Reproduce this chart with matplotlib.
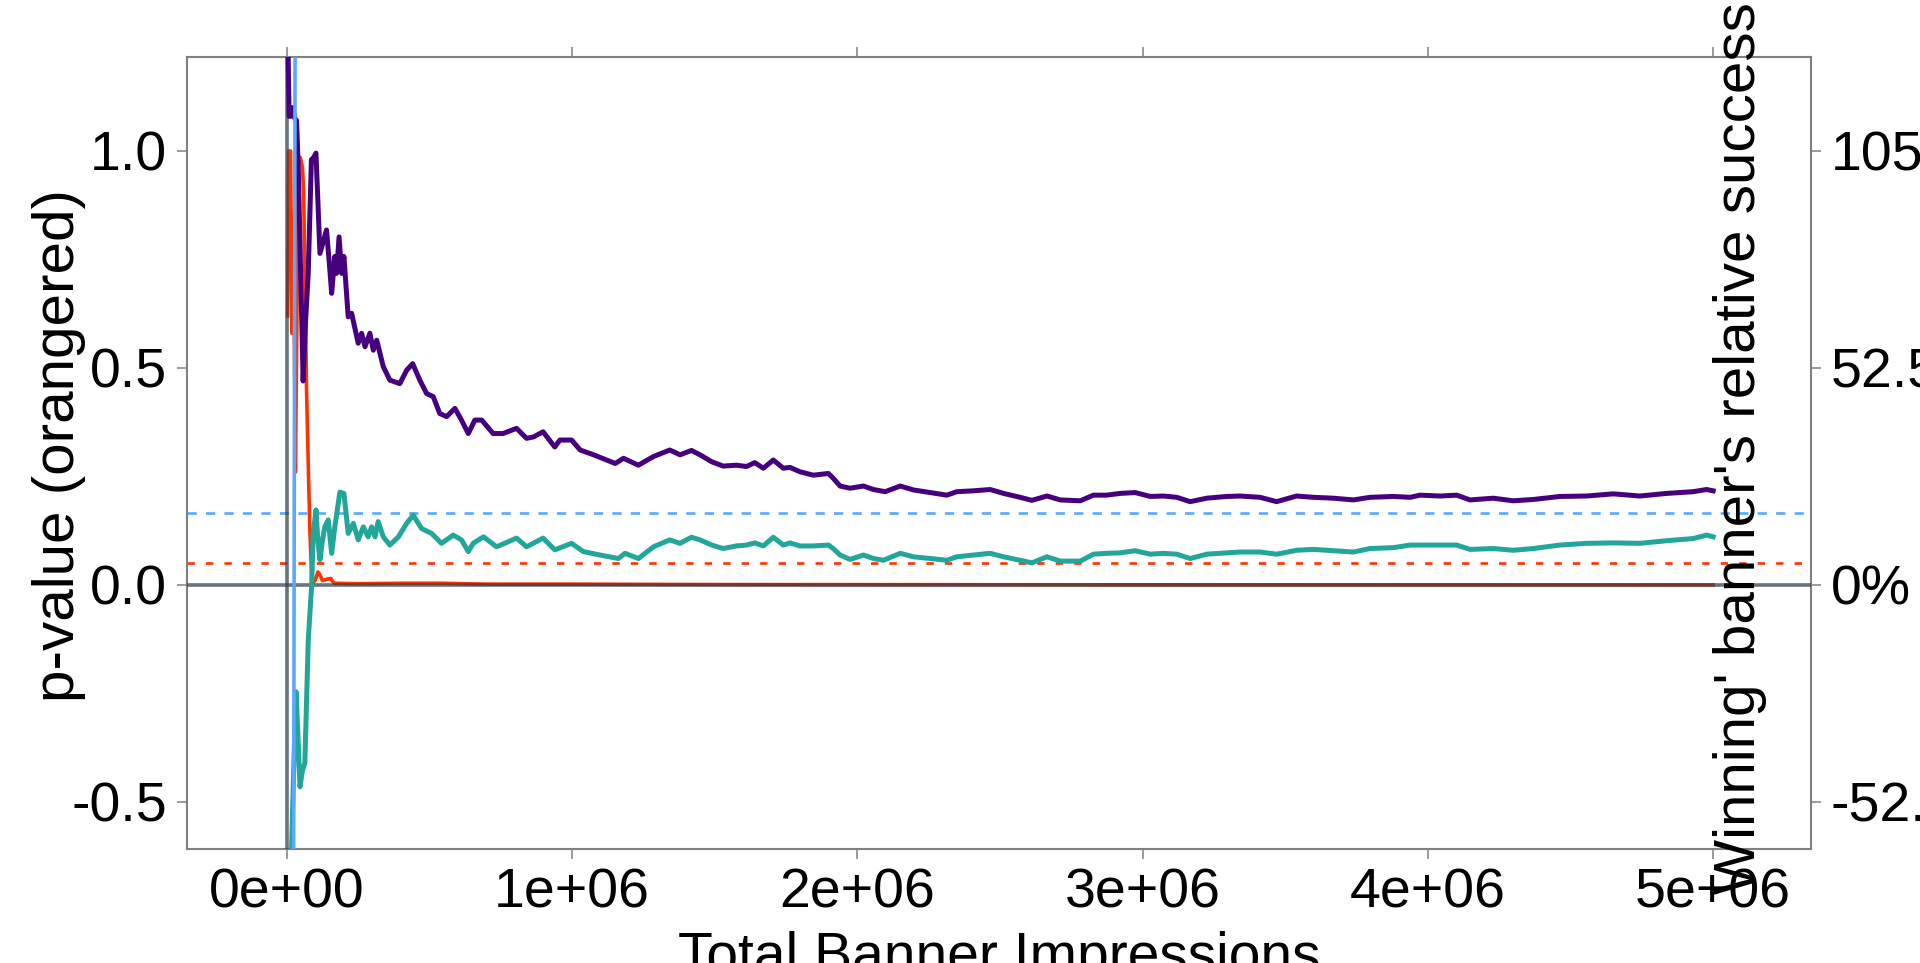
import numpy as np
import matplotlib
matplotlib.use("Agg")
import matplotlib.pyplot as plt
from matplotlib.ticker import FixedLocator, FixedFormatter

plt.rcParams['font.family'] = ['Liberation Sans', 'DejaVu Sans']

# ---- data -------------------------------------------------------------
# impressions in millions; upper relative-success bound (indigo)
upper_x = [0.002, 0.006, 0.009, 0.015, 0.022, 0.029, 0.035, 0.041, 0.050, 0.058,
           0.066, 0.076, 0.087, 0.095, 0.103, 0.110, 0.117, 0.128, 0.140, 0.150,
           0.158, 0.169, 0.175, 0.184, 0.193, 0.201, 0.216, 0.228, 0.251, 0.263,
           0.275, 0.292, 0.304, 0.316, 0.339, 0.362, 0.397, 0.421, 0.442, 0.467,
           0.491, 0.514, 0.537, 0.561, 0.590, 0.613, 0.637, 0.660, 0.684, 0.724,
           0.759, 0.806, 0.841, 0.865, 0.899, 0.940, 0.958, 0.999, 1.029, 1.076,
           1.122, 1.152, 1.181, 1.233, 1.286, 1.343, 1.379, 1.419, 1.449, 1.490,
           1.530, 1.577, 1.612, 1.641, 1.671, 1.706, 1.741, 1.764, 1.799, 1.846,
           1.899, 1.916, 1.940, 1.975, 2.022, 2.057, 2.098, 2.151, 2.197, 2.256,
           2.314, 2.349, 2.408, 2.466, 2.513, 2.571, 2.612, 2.665, 2.712, 2.782,
           2.828, 2.874, 2.921, 2.974, 3.027, 3.073, 3.120, 3.167, 3.225, 3.295,
           3.342, 3.412, 3.470, 3.540, 3.599, 3.669, 3.739, 3.797, 3.879, 3.938,
           3.973, 4.043, 4.101, 4.148, 4.229, 4.299, 4.369, 4.463, 4.556, 4.650,
           4.743, 4.837, 4.930, 4.977, 5.000]
upper_y = [1.60, 1.20, 1.08, 1.08, 1.10, 1.075, 1.07, 0.96, 0.70, 0.47,
           0.60, 0.72, 0.98, 0.985, 0.995, 0.88, 0.764, 0.79, 0.818, 0.74,
           0.672, 0.757, 0.718, 0.802, 0.718, 0.757, 0.618, 0.626, 0.557, 0.580,
           0.549, 0.580, 0.541, 0.564, 0.503, 0.472, 0.464, 0.495, 0.510, 0.472,
           0.441, 0.434, 0.395, 0.388, 0.407, 0.380, 0.349, 0.380, 0.380, 0.349,
           0.349, 0.361, 0.338, 0.341, 0.353, 0.318, 0.334, 0.334, 0.311, 0.300,
           0.288, 0.280, 0.292, 0.276, 0.296, 0.311, 0.300, 0.310, 0.300, 0.284,
           0.274, 0.276, 0.273, 0.282, 0.269, 0.288, 0.269, 0.271, 0.261, 0.253,
           0.257, 0.246, 0.228, 0.223, 0.228, 0.220, 0.215, 0.228, 0.219, 0.213,
           0.207, 0.215, 0.217, 0.220, 0.211, 0.202, 0.195, 0.205, 0.196, 0.194,
           0.207, 0.207, 0.211, 0.213, 0.204, 0.205, 0.202, 0.192, 0.200, 0.204,
           0.205, 0.202, 0.192, 0.205, 0.202, 0.200, 0.196, 0.202, 0.204, 0.202,
           0.207, 0.205, 0.207, 0.196, 0.200, 0.194, 0.197, 0.204, 0.205, 0.210,
           0.205, 0.211, 0.215, 0.220, 0.217]

# lower relative-success bound (sea green)
lower_x = [0.010, 0.0175, 0.026, 0.033, 0.040, 0.047, 0.055, 0.064, 0.076, 0.088,
           0.093, 0.099, 0.103, 0.110, 0.117, 0.125, 0.134, 0.146, 0.158, 0.169,
           0.187, 0.201, 0.216, 0.234, 0.251, 0.269, 0.286, 0.298, 0.310, 0.321,
           0.339, 0.362, 0.392, 0.421, 0.444, 0.473, 0.508, 0.543, 0.584, 0.613,
           0.637, 0.654, 0.690, 0.736, 0.806, 0.841, 0.899, 0.940, 0.999, 1.040,
           1.099, 1.163, 1.186, 1.233, 1.286, 1.343, 1.379, 1.419, 1.449, 1.490,
           1.530, 1.577, 1.612, 1.641, 1.671, 1.706, 1.741, 1.764, 1.799, 1.846,
           1.899, 1.916, 1.940, 1.975, 2.022, 2.057, 2.092, 2.151, 2.197, 2.256,
           2.314, 2.349, 2.408, 2.466, 2.513, 2.571, 2.612, 2.665, 2.712, 2.782,
           2.828, 2.874, 2.921, 2.974, 3.027, 3.073, 3.120, 3.167, 3.225, 3.295,
           3.342, 3.412, 3.470, 3.540, 3.599, 3.669, 3.739, 3.797, 3.879, 3.938,
           3.973, 4.043, 4.101, 4.148, 4.229, 4.299, 4.369, 4.463, 4.556, 4.650,
           4.743, 4.837, 4.930, 4.977, 5.000]
lower_y = [-0.95, -0.61, -0.40, -0.246, -0.35, -0.465, -0.43, -0.41, -0.127, 0.0,
           0.119, 0.15, 0.173, 0.10, 0.058, 0.10, 0.134, 0.15, 0.073, 0.134,
           0.214, 0.211, 0.119, 0.142, 0.104, 0.134, 0.111, 0.134, 0.111, 0.146,
           0.111, 0.092, 0.111, 0.142, 0.161, 0.130, 0.119, 0.096, 0.115, 0.104,
           0.077, 0.096, 0.111, 0.088, 0.108, 0.088, 0.108, 0.081, 0.096, 0.077,
           0.069, 0.061, 0.073, 0.061, 0.088, 0.104, 0.096, 0.110, 0.104, 0.092,
           0.084, 0.090, 0.092, 0.097, 0.090, 0.110, 0.092, 0.097, 0.090, 0.090,
           0.092, 0.084, 0.069, 0.059, 0.069, 0.061, 0.057, 0.073, 0.065, 0.061,
           0.057, 0.065, 0.069, 0.073, 0.065, 0.057, 0.051, 0.065, 0.055, 0.055,
           0.071, 0.073, 0.074, 0.079, 0.071, 0.073, 0.071, 0.061, 0.071, 0.074,
           0.076, 0.076, 0.071, 0.080, 0.082, 0.079, 0.076, 0.084, 0.086, 0.092,
           0.092, 0.092, 0.092, 0.082, 0.084, 0.080, 0.084, 0.092, 0.096, 0.097,
           0.096, 0.102, 0.107, 0.115, 0.111]

# p-value of the test (orangered)
pval_x = [0.004, 0.007, 0.014, 0.019, 0.024, 0.031, 0.036, 0.040, 0.048, 0.056,
          0.060, 0.065, 0.070, 0.077, 0.082, 0.088, 0.093, 0.101, 0.110, 0.118,
          0.126, 0.140, 0.155, 0.166, 0.25, 0.40, 0.55, 0.70, 1.0, 1.5,
          2.0, 3.0, 4.0, 5.0]
pval_y = [0.62, 1.00, 1.00, 0.58, 0.85, 0.26, 0.60, 0.97, 0.985, 0.96,
          0.90, 0.68, 0.45, 0.25, 0.12, 0.02, 0.005, 0.012, 0.030, 0.022,
          0.010, 0.013, 0.015, 0.004, 0.003, 0.004, 0.004, 0.002, 0.002, 0.001,
          0.0008, 0.0004, 0.0003, 0.0002]

# point estimate (light blue), only visible at the very start
est_x = [0.0245, 0.0300]
est_y = [-0.70, 1.30]

alpha_level = 0.05          # significance threshold (left axis)
target_lift = 17.5 / 105.0  # target relative success on left-axis scale

x_ticks = [0, 1e6, 2e6, 3e6, 4e6, 5e6]
x_tick_labels = ["0e+00", "1e+06", "2e+06", "3e+06", "4e+06", "5e+06"]
y_ticks = [-0.5, 0.0, 0.5, 1.0]
y_tick_labels = ["-0.5", "0.0", "0.5", "1.0"]
y2_tick_labels = ["-52.5%", "0%", "52.5%", "105%"]

# ---- figure -----------------------------------------------------------
W, H = 1920, 963
fig = plt.figure(figsize=(W / 100, H / 100), dpi=100)
L, R, T, B = 187, 1811, 57.5, 849
ax = fig.add_axes([L / W, 1 - B / H, (R - L) / W, (B - T) / H])

M = 1e6
ax.plot(np.array(pval_x) * M, pval_y, color="#ff3300", lw=2.6, zorder=2)
ax.axhline(target_lift, color="#58a9ff", lw=1.9, dashes=(3.5, 3.5), zorder=2.5)
ax.axhline(alpha_level, color="#ff3300", lw=1.9, dashes=(2.8, 4.2), zorder=2.5)
ax.axhline(0, color="#2f3e4e", alpha=0.72, lw=2.6, zorder=3)
ax.axvline(0, color="#2f3e4e", alpha=0.72, lw=2.6, zorder=3)
ax.plot(np.array(upper_x) * M, upper_y, color="#46007e", lw=3.6, zorder=4)
ax.plot(np.array(lower_x) * M, lower_y, color="#22a699", lw=3.6, zorder=5)
ax.plot(np.array(est_x) * M, est_y, color="#58a9ff", lw=2.6, zorder=6)

ax.set_xlim(-0.349e6, 5.343e6)
ax.set_ylim(-0.6083, 1.2154)

box_col = "#808080"
for s in ax.spines.values():
    s.set_color(box_col)
    s.set_linewidth(1.5)

ax.xaxis.set_major_locator(FixedLocator(x_ticks))
ax.xaxis.set_major_formatter(FixedFormatter(x_tick_labels))
ax.yaxis.set_major_locator(FixedLocator(y_ticks))
ax.yaxis.set_major_formatter(FixedFormatter(y_tick_labels))
ax.tick_params(axis="both", direction="out", length=7.2, width=1.1,
               color=box_col, labelsize=40, labelcolor="black")
ax.tick_params(axis="x", top=True, pad=6)
ax.tick_params(axis="y", pad=7)

ax2 = ax.twinx()
ax2.set_ylim(ax.get_ylim())
ax2.yaxis.set_major_locator(FixedLocator(y_ticks))
ax2.yaxis.set_major_formatter(FixedFormatter(y2_tick_labels))
ax2.tick_params(axis="y", direction="out", length=7.2, width=1.1,
                color=box_col, labelsize=40, pad=7)
for s in ax2.spines.values():
    s.set_visible(False)

cx = (L + R) / 2 / W
cy = 1 - (T + B) / 2 / H
fig.text(cx, -0.0099, "Total Banner Impressions", fontsize=41,
         ha="center", va="baseline")
fig.text(59 / W, cy + 0.008, "p-value (orangered)", fontsize=42, rotation=90,
         ha="center", va="center")
fig.text(1740 / W, cy + 0.005, "Winning' banner's relative success", fontsize=42,
         rotation=90, ha="center", va="center", zorder=10)

fig.savefig("out.png", dpi=100)
